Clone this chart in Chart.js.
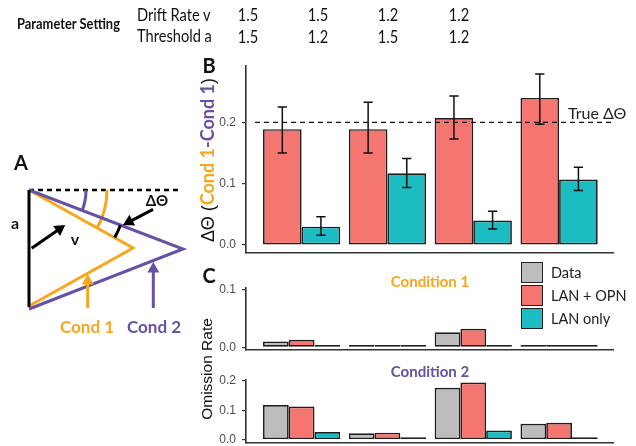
<!DOCTYPE html>
<html>
<head>
<meta charset="utf-8">
<script src="https://cdn.jsdelivr.net/npm/chart.js@4.4.1/dist/chart.umd.min.js"></script>
<style>
  html, body { margin: 0; background: #fff; overflow: hidden; }
  #fig { position: relative; width: 636px; height: 446px; overflow: hidden; background: #fff; }
  #fig canvas { position: absolute; left: 0; top: 0; }
  #diagram { left: 0; top: 170px !important; }
  .t { position: absolute; white-space: nowrap; line-height: 1; font-family: Lato, sans-serif; color: #111; }
  .c { transform: translate(-50%, -50%); }
  .l { transform: translateY(-50%); }
  .cn { transform: translate(-50%, -50%) scaleX(0.86); }
  .ln { transform: translateY(-50%) scaleX(0.86); transform-origin: left center; }
  .cw { transform: translate(-50%, -50%) scaleX(0.94); }
  .b { font-weight: bold; }
  .or { color: #F9A61B; }
  .pu { color: #6751A4; }
  .box { position: absolute; width: 20px; height: 19px; border: 1.5px solid #222; }
</style>
</head>
<body>
<div id="fig">
  <canvas id="chartB" width="636" height="480"></canvas>
  <canvas id="chartC1" width="636" height="480"></canvas>
  <canvas id="chartC2" width="636" height="480"></canvas>
  <canvas id="diagram" width="200" height="150"></canvas>

  <div class="t b ln" style="left:17px;top:23px;font-size:15px">Parameter Setting</div>
  <div class="t ln" style="left:137px;top:14px;font-size:17px">Drift Rate v</div>
  <div class="t ln" style="left:137px;top:35px;font-size:17px">Threshold a</div>
  <div id="paramCells"></div>

  <div class="t b c" style="left:21px;top:162px;font-size:20px">A</div>
  <div class="t b c" style="left:209px;top:65px;font-size:20px">B</div>
  <div class="t b c" style="left:209px;top:275px;font-size:20px">C</div>

  <div class="t b c" style="left:15px;top:223px;font-size:16px">a</div>
  <div class="t b c" style="left:75px;top:239px;font-size:16px">v</div>
  <div class="t b c" style="left:157px;top:200px;font-size:15px">ΔΘ</div>
  <div class="t b c or" style="left:87px;top:326px;font-size:17px">Cond 1</div>
  <div class="t b c pu" style="left:154px;top:326px;font-size:17px">Cond 2</div>

  <div class="t c" style="left:207px;top:160px;transform:translate(-50%,-50%) rotate(-90deg);font-family:'Liberation Sans';font-size:18px">ΔΘ (<span class="b or" style="font-family:Lato">Cond 1</span><span class="b pu" style="font-family:Lato">-Cond 1</span>)</div>
  <div class="t l" style="left:568px;top:113px;font-size:16px;color:#222">True ΔΘ</div>

  <div class="t c" style="left:207px;top:369px;transform:translate(-50%,-50%) rotate(-90deg);font-family:'Liberation Sans';font-size:15.5px">Omission Rate</div>
  <div class="t b cw or" style="left:430px;top:281px;font-size:16px">Condition 1</div>
  <div class="t b cw pu" style="left:430px;top:371px;font-size:16px">Condition 2</div>
  <div id="legend"></div>
</div>

<script>
// parameter table
const driftRates = ['1.5', '1.5', '1.2', '1.2'];
const thresholds = ['1.5', '1.2', '1.5', '1.2'];

// panel B: recovered delta theta (mean and error bar ends)
const settings = [1, 2, 3, 4];
const opnDelta = [0.189, 0.189, 0.207, 0.240];
const opnLow = [0.150, 0.150, 0.173, 0.197];
const opnHigh = [0.225, 0.233, 0.243, 0.279];
const lanDelta = [0.030, 0.117, 0.040, 0.107];
const lanLow = [0.016, 0.094, 0.026, 0.089];
const lanHigh = [0.046, 0.141, 0.055, 0.127];
const trueDelta = 0.2;
const deltaTicks = [0, 0.1, 0.2];

// panel C: omission rates
const cond1Data = [0.010, 0.004, 0.026, 0.004];
const cond1Opn = [0.013, 0.004, 0.032, 0.004];
const cond1Lan = [0.004, 0.004, 0.004, 0.004];
const cond2Data = [0.118, 0.022, 0.177, 0.054];
const cond2Opn = [0.113, 0.024, 0.195, 0.058];
const cond2Lan = [0.026, 0.008, 0.031, 0.008];
const cond1Ticks = [0, 0.1];
const cond2Ticks = [0, 0.1, 0.2];

const seriesNames = ['Data', 'LAN + OPN', 'LAN only'];
const seriesColors = ['#BDBDBD', '#F57670', '#1CBDC2'];

// panel A: schematic (units ~px, origin at lower end of the start boundary)
const startLine = [[0, 0], [0, 117]];
const refLine = [[0, 117], [151, 117]];
const cond1Bound = [[0, 117], [104, 59], [0, 1]];
const cond2Bound = [[0, 117], [154, 58], [0, -2]];
const cond1Arc = [[78, 117], [76.8, 103.5], [73.3, 90.3], [68.2, 79.2]];
const cond2Arc = [[57, 117], [56.6, 110.1], [55.3, 103.2], [53.2, 96.6]];
const deltaArc = [[91.5, 81.9], [88.8, 75.6], [85.7, 69.5]];
const vShaft = [[2.7, 58.7], [30.5, 78]];
const deltaShaft = [[124, 97.7], [100.2, 85.2]];
const cond1Shaft = [[58.7, -1], [58.7, 26]];
const cond2Shaft = [[124.3, -1], [124.3, 38]];
const arrowHeads = [[30.5, 78], [100.2, 85.2], [58.7, 26], [124.3, 38]];
const arrowAngles = [55, 242, 0, 0];

const ORANGE = '#F9A61B', PURPLE = '#6751A4';

// table cells
const colX = [248, 318, 388, 459];
document.getElementById('paramCells').innerHTML =
  driftRates.map((v, i) => `<div class="t cn" style="left:${colX[i]}px;top:14px;font-size:17px">${v}</div>`).join('') +
  thresholds.map((v, i) => `<div class="t cn" style="left:${colX[i]}px;top:36px;font-size:17px">${v}</div>`).join('');

// legend
document.getElementById('legend').innerHTML = seriesNames.map((n, i) =>
  `<div class="box" style="left:521px;top:${262 + i * 23}px;background:${seriesColors[i]}"></div>` +
  `<div class="t l" style="left:551px;top:${273 + i * 23}px;font-size:14.5px;color:#222">${n}</div>`).join('');

const errorBars = {
  id: 'errorBars',
  afterDatasetsDraw(chart) {
    const ctx = chart.ctx, y = chart.scales.y;
    ctx.save();
    ctx.strokeStyle = '#111';
    ctx.lineWidth = 1.5;
    chart.data.datasets.forEach((ds, di) => {
      if (!ds.errLow) return;
      chart.getDatasetMeta(di).data.forEach((bar, i) => {
        const lo = y.getPixelForValue(ds.errLow[i]);
        const hi = y.getPixelForValue(ds.errHigh[i]);
        const w = bar.width * 0.12;
        ctx.beginPath();
        ctx.moveTo(bar.x, lo); ctx.lineTo(bar.x, hi);
        ctx.moveTo(bar.x - w, lo); ctx.lineTo(bar.x + w, lo);
        ctx.moveTo(bar.x - w, hi); ctx.lineTo(bar.x + w, hi);
        ctx.stroke();
      });
    });
    ctx.restore();
  }
};

const refLinePlugin = {
  id: 'refLine',
  afterDatasetsDraw(chart, args, opts) {
    if (opts.value === undefined) return;
    const ctx = chart.ctx, {x, y} = chart.scales;
    const py = y.getPixelForValue(opts.value);
    ctx.save();
    ctx.strokeStyle = '#111';
    ctx.lineWidth = 1.3;
    ctx.setLineDash([5, 4]);
    ctx.beginPath();
    ctx.moveTo(x.getPixelForValue(0.457), py);
    ctx.lineTo(x.getPixelForValue(4.653), py);
    ctx.stroke();
    ctx.restore();
  }
};

function barChart(id, series, yMin, yMax, ticks, top, bottom, refValue) {
  return new Chart(document.getElementById(id), {
    type: 'bar',
    data: {
      datasets: series.map(s => ({
        data: s.values.map((v, i) => ({x: settings[i], y: v})),
        backgroundColor: s.color,
        borderColor: '#1e1e1e',
        borderWidth: 1.7,
        borderSkipped: false,
        categoryPercentage: 0.9,
        barPercentage: 1,
        errLow: s.low,
        errHigh: s.high
      }))
    },
    options: {
      responsive: false,
      animation: false,
      events: [],
      layout: {padding: {left: 206, right: 23, top: top, bottom: bottom}, autoPadding: false},
      plugins: {legend: {display: false}, tooltip: {enabled: false}, refLine: {value: refValue}},
      scales: {
        x: {
          type: 'linear', min: 0.352, max: 4.628, bounds: 'data', offset: false,
          afterBuildTicks: s => { s.ticks = settings.map(v => ({value: v})); },
          ticks: {display: false},
          grid: {display: false},
          border: {color: '#333', width: 1.6},
          afterFit: s => { s.height = 0; }
        },
        y: {
          min: yMin, max: yMax,
          afterBuildTicks: s => { s.ticks = ticks.map(v => ({value: v})); },
          ticks: {callback: v => v.toFixed(1), color: '#4d4d4d', padding: 6,
                  font: {family: 'Liberation Sans', size: 12}},
          grid: {drawOnChartArea: false, tickLength: 4, color: '#333', lineWidth: 1.2},
          border: {color: '#333', width: 1.6},
          afterFit: s => { s.width = 40; }
        }
      }
    },
    plugins: [errorBars, refLinePlugin]
  });
}

barChart('chartB', [
  {values: opnDelta, color: seriesColors[1], low: opnLow, high: opnHigh},
  {values: lanDelta, color: seriesColors[2], low: lanLow, high: lanHigh}
], -0.013, 0.292, deltaTicks, 66, 480 - 253, trueDelta);

barChart('chartC1', [
  {values: cond1Data, color: seriesColors[0]},
  {values: cond1Opn, color: seriesColors[1]},
  {values: cond1Lan, color: seriesColors[2]}
], -0.0038, 0.1022, cond1Ticks, 288, 480 - 349.5);

barChart('chartC2', [
  {values: cond2Data, color: seriesColors[0]},
  {values: cond2Opn, color: seriesColors[1]},
  {values: cond2Lan, color: seriesColors[2]}
], -0.0095, 0.2034, cond2Ticks, 380, 480 - 442.5);

// panel A schematic
const pts = a => a.map(([x, y]) => ({x, y}));
const seg = (a, color, extra) => Object.assign({
  data: pts(a), showLine: true, borderColor: color, borderWidth: 3,
  pointRadius: 0, fill: false, tension: 0
}, extra || {});

new Chart(document.getElementById('diagram'), {
  type: 'scatter',
  data: {
    datasets: [
      {data: pts(arrowHeads), pointStyle: 'triangle', pointRadius: 7, pointRotation: arrowAngles,
       pointBackgroundColor: ['#000', '#000', ORANGE, PURPLE], pointBorderWidth: 0, showLine: false},
      seg(vShaft, '#000'),
      seg(deltaShaft, '#000'),
      seg(cond1Shaft, ORANGE),
      seg(cond2Shaft, PURPLE),
      seg(deltaArc, '#000', {tension: 0.4}),
      seg(startLine, '#000'),
      seg(cond2Bound, PURPLE),
      seg(cond1Bound, ORANGE),
      seg(cond2Arc, PURPLE, {tension: 0.4}),
      seg(cond1Arc, ORANGE, {tension: 0.4}),
      seg(refLine, '#000', {borderDash: [5, 4], borderWidth: 2.5})
    ]
  },
  options: {
    responsive: false,
    animation: false,
    events: [],
    layout: {padding: 0, autoPadding: false},
    plugins: {legend: {display: false}, tooltip: {enabled: false}},
    scales: {
      x: {display: false, min: -29, max: 171},
      y: {display: false, min: -13, max: 137}
    }
  }
});
</script>
</body>
</html>
